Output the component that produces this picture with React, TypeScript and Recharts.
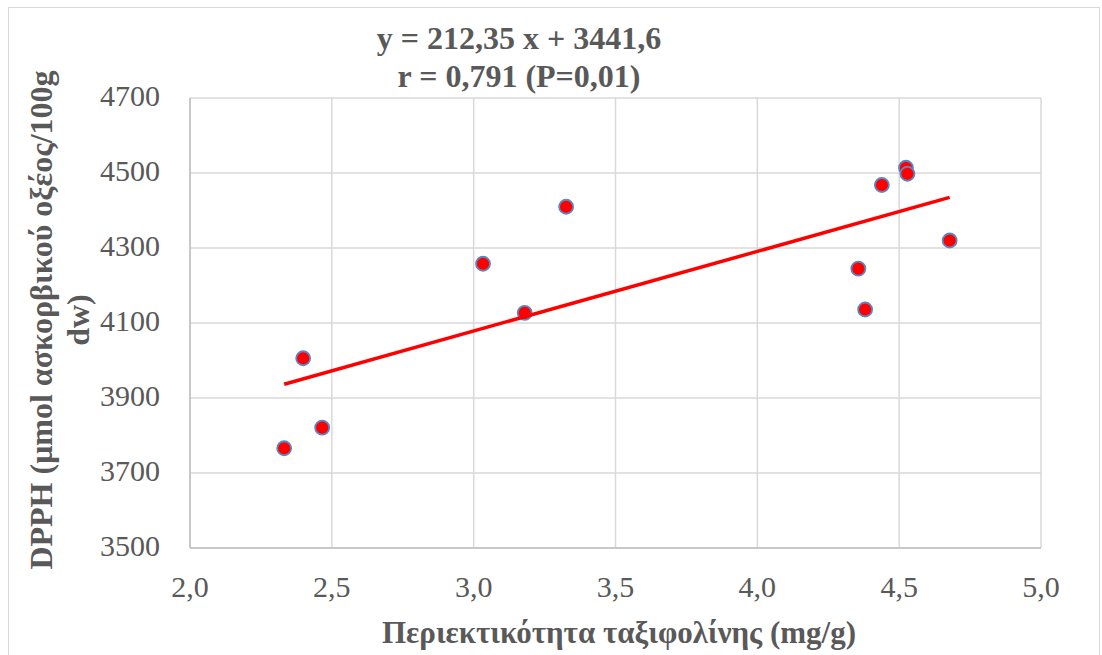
import React from 'react';
import { ScatterChart, Scatter, XAxis, YAxis, CartesianGrid } from 'recharts';

const xValues = [2.332, 2.399, 2.466, 3.033, 3.18, 3.326, 4.356, 4.38, 4.439, 4.524, 4.529, 4.678];
const yValues = [3766, 4006, 3821, 4258, 4127, 4410, 4245, 4136, 4468, 4514, 4498, 4320];
const xTicks = [2.0, 2.5, 3.0, 3.5, 4.0, 4.5, 5.0];
const yTicks = [3500, 3700, 3900, 4100, 4300, 4500, 4700];
const slope = 212.35;
const intercept = 3441.6;
const titleLines = ['y = 212,35 x + 3441,6', 'r = 0,791 (P=0,01)'];
const xTitle = 'Περιεκτικότητα ταξιφολίνης (mg/g)';
const yTitleLines = ['DPPH (μmol ασκορβικού οξέος/100g', 'dw)'];

const points = xValues.map((x, i) => ({ x, y: yValues[i] }));
const minX = Math.min(...xValues);
const maxX = Math.max(...xValues);
const trend = [minX, maxX].map((x) => ({ x, y: slope * x + intercept }));

const FONT = '"Liberation Serif", "Times New Roman", serif';
const TEXT = '#595959';

const XTick = (props: any) => {
  const { x, y, payload } = props;
  return (
    <text x={x} y={y} dy={49} textAnchor="middle" fill={TEXT} fontSize={30} fontFamily={FONT}>
      {Number(payload.value).toFixed(1).replace('.', ',')}
    </text>
  );
};

const YTick = (props: any) => {
  const { x, y, payload } = props;
  return (
    <text x={x} y={y} dy={8} textAnchor="end" fill={TEXT} fontSize={30} fontFamily={FONT}>
      {payload.value}
    </text>
  );
};

const Dot = (props: any) => {
  const { cx, cy } = props;
  if (cx == null || cy == null) return null;
  return <circle cx={cx} cy={cy} r={7} fill="#ff0000" stroke="#5b86c4" strokeWidth={1.8} />;
};

export default function App() {
  return (
    <>
      <style>{`body{margin:0;overflow:hidden;}`}</style>
      <div
        style={{
          position: 'absolute',
          left: 8,
          top: 7,
          width: 1092,
          height: 660,
          border: '1px solid #d9d9d9',
          boxSizing: 'border-box',
          background: '#fff',
        }}
      >
        <ScatterChart width={1090} height={658} margin={{ top: 90, right: 58, left: 0, bottom: 0 }}>
          <CartesianGrid stroke="#d9d9d9" strokeWidth={1.5} />
          <XAxis
            type="number"
            dataKey="x"
            domain={[2, 5]}
            ticks={xTicks}
            tick={<XTick />}
            tickLine={false}
            tickSize={0}
            tickMargin={0}
            height={118}
            axisLine={{ stroke: '#bfbfbf', strokeWidth: 1.5 }}
            allowDataOverflow
          />
          <YAxis
            type="number"
            dataKey="y"
            domain={[3500, 4700]}
            ticks={yTicks}
            tick={<YTick />}
            tickLine={false}
            tickSize={0}
            tickMargin={30}
            width={181}
            axisLine={{ stroke: '#bfbfbf', strokeWidth: 1.5 }}
            allowDataOverflow
          />
          <Scatter data={points} shape={<Dot />} isAnimationActive={false} />
          <Scatter
            data={trend}
            line={{ stroke: '#ff0000', strokeWidth: 3.5 }}
            shape={() => null}
            isAnimationActive={false}
          />
        </ScatterChart>
        <svg
          width={1090}
          height={658}
          style={{ position: 'absolute', left: 0, top: 0, pointerEvents: 'none' }}
        >
          <text x={510} y={41} textAnchor="middle" fill={TEXT} fontSize={32} fontWeight="bold" fontFamily={FONT}>
            {titleLines[0]}
          </text>
          <text x={510} y={79} textAnchor="middle" fill={TEXT} fontSize={32} fontWeight="bold" fontFamily={FONT}>
            {titleLines[1]}
          </text>
          <text x={610} y={635} textAnchor="middle" fill={TEXT} fontSize={31} fontWeight="bold" fontFamily={FONT}>
            {xTitle}
          </text>
          <text
            transform={`translate(43, 312) rotate(-90)`}
            textAnchor="middle"
            fill={TEXT}
            fontSize={32}
            fontWeight="bold"
            fontFamily={FONT}
          >
            {yTitleLines[0]}
          </text>
          <text
            transform={`translate(80, 312) rotate(-90)`}
            textAnchor="middle"
            fill={TEXT}
            fontSize={32}
            fontWeight="bold"
            fontFamily={FONT}
          >
            {yTitleLines[1]}
          </text>
        </svg>
      </div>
    </>
  );
}
